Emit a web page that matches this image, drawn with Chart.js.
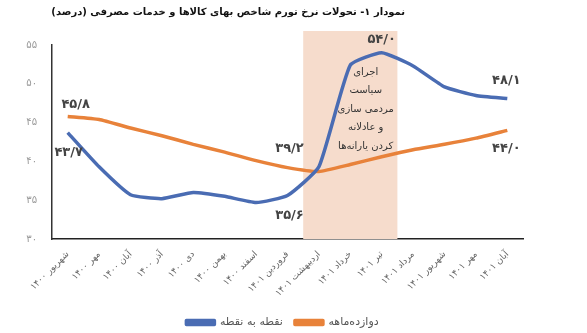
<!DOCTYPE html>
<html>
<head>
<meta charset="utf-8">
<script src="https://cdn.jsdelivr.net/npm/chart.js@4"></script>
<style>
  html, body { margin: 0; padding: 0; background: #fff; }
  #wrap { width: 587px; height: 333px; }
</style>
</head>
<body>
<div id="wrap"><canvas id="chart" width="587" height="333"></canvas></div>
<script>
const months = ["شهریور ۱۴۰۰", "مهر ۱۴۰۰", "آبان ۱۴۰۰", "آذر ۱۴۰۰", "دی ۱۴۰۰", "بهمن ۱۴۰۰", "اسفند ۱۴۰۰",
  "فروردین ۱۴۰۱", "اردیبهشت ۱۴۰۱", "خرداد ۱۴۰۱", "تیر ۱۴۰۱", "مرداد ۱۴۰۱", "شهریور ۱۴۰۱", "مهر ۱۴۰۱", "آبان ۱۴۰۱"];
const pointToPoint = [43.7, 39.3, 35.7, 35.2, 36.0, 35.5, 34.7, 35.6, 39.3, 52.4, 54.0, 52.3, 49.6, 48.5, 48.1];
const twelveMonth = [45.8, 45.4, 44.3, 43.3, 42.2, 41.2, 40.1, 39.2, 38.7, 39.6, 40.6, 41.5, 42.2, 43.0, 44.0];
const seriesNames = ["نقطه به نقطه", "دوازده‌ماهه"];
const yTicks = [30, 35, 40, 45, 50, 55];
const title = "نمودار ۱- تحولات نرخ تورم شاخص بهای کالاها و خدمات مصرفی (درصد)";
const bandText = ["اجرای", "سیاست", "مردمی سازی", "و عادلانه", "کردن یارانه‌ها"];
const bandFrom = 8;
const bandTo = 10;

const blue = "#4a6cb3";
const orange = "#e8823a";
const FONT = "'DejaVu Sans', sans-serif";

const faDigits = (s) => String(s).replace(/[0-9]/g, (d) => "۰۱۲۳۴۵۶۷۸۹"[d]).replace(".", "/");
const fa1 = (v) => faDigits(v.toFixed(1));

// labels on chosen points: [series, index, dx, dy]
const pointLabels = [
  [1, 0, 8, -12],
  [0, 0, 1, 20],
  [1, 7, 2, -19],
  [0, 7, 2, 20],
  [0, 10, 0, -13],
  [0, 14, -1, -18],
  [1, 14, -1, 18],
];

const extras = {
  id: "extras",
  beforeDatasetsDraw(chart) {
    const { ctx, chartArea } = chart;
    const xs = chart.scales.x;
    const half = (xs.getPixelForValue(1) - xs.getPixelForValue(0)) / 2;
    const x0 = xs.getPixelForValue(bandFrom) - half;
    const x1 = xs.getPixelForValue(bandTo) + half;
    ctx.save();
    ctx.fillStyle = "#f6dccc";
    ctx.fillRect(x0, chartArea.top - 14, x1 - x0, chartArea.bottom - chartArea.top + 14);
    ctx.restore();
  },
  afterDatasetsDraw(chart) {
    const { ctx, chartArea } = chart;
    const xs = chart.scales.x;
    const ys = chart.scales.y;
    ctx.save();
    ctx.direction = "rtl";
    ctx.textAlign = "center";
    ctx.textBaseline = "middle";

    // text inside band
    ctx.fillStyle = "#333";
    ctx.font = "10px " + FONT;
    const cx = xs.getPixelForValue(bandTo) - 16;
    bandText.forEach((t, i) => ctx.fillText(t, cx, chartArea.top + 27 + i * 18.5));

    // value labels
    ctx.fillStyle = "#444";
    ctx.font = "bold 13px " + FONT;
    ctx.direction = "ltr";
    pointLabels.forEach(([s, i, dx, dy]) => {
      const v = s === 0 ? pointToPoint[i] : twelveMonth[i];
      ctx.fillText(fa1(v), xs.getPixelForValue(i) + dx, ys.getPixelForValue(v) + dy);
    });

    // title
    ctx.direction = "rtl";
    ctx.textAlign = "right";
    ctx.fillStyle = "#111";
    ctx.font = "bold 10px " + FONT;
    ctx.fillText(title, 405, 12);
    ctx.restore();
  },
};

new Chart(document.getElementById("chart"), {
  type: "line",
  data: {
    labels: months,
    datasets: [
      {
        label: seriesNames[0],
        data: pointToPoint,
        borderColor: blue,
        backgroundColor: blue,
        borderWidth: 3.5,
        pointRadius: 0,
        tension: 0.15,
        borderJoinStyle: "round",
      },
      {
        label: seriesNames[1],
        data: twelveMonth,
        borderColor: orange,
        backgroundColor: orange,
        borderWidth: 3.5,
        pointRadius: 0,
        tension: 0.15,
        borderJoinStyle: "round",
      },
    ],
  },
  options: {
    responsive: false,
    animation: false,
    layout: { padding: { left: 0, right: 22, top: 45, bottom: -5 } },
    plugins: {
      title: { display: false },
      tooltip: { enabled: false },
      legend: {
        position: "bottom",
        labels: {
          boxWidth: 28,
          boxHeight: 4,
          padding: 12,
          color: "#555",
          font: { family: FONT, size: 11 },
        },
      },
    },
    scales: {
      x: {
        offset: true,
        grid: { display: false },
        border: { display: true, color: "#222", width: 1.5 },
        ticks: {
          autoSkip: false,
          maxRotation: 45,
          minRotation: 45,
          padding: 2,
          color: "#666",
          font: { family: FONT, size: 9 },
        },
        afterFit: (s) => { s.height = 66; },
      },
      y: {
        min: 30,
        max: 55,
        grid: { display: false },
        border: { display: true, color: "#333", width: 1.5 },
        afterBuildTicks: (s) => { s.ticks = yTicks.map((v) => ({ value: v })); },
        ticks: {
          padding: 7,
          color: "#999",
          font: { family: FONT, size: 10 },
          callback: (v) => faDigits(v),
        },
        afterFit: (s) => { s.width = 52; },
      },
      // empty right gutter, keeps the plot narrower than the legend row
      gutter: {
        position: "right",
        display: true,
        grid: { display: false },
        border: { display: false },
        ticks: { display: false },
        afterFit: (s) => { s.width = 42; },
      },
    },
  },
  plugins: [extras],
});
</script>
</body>
</html>
